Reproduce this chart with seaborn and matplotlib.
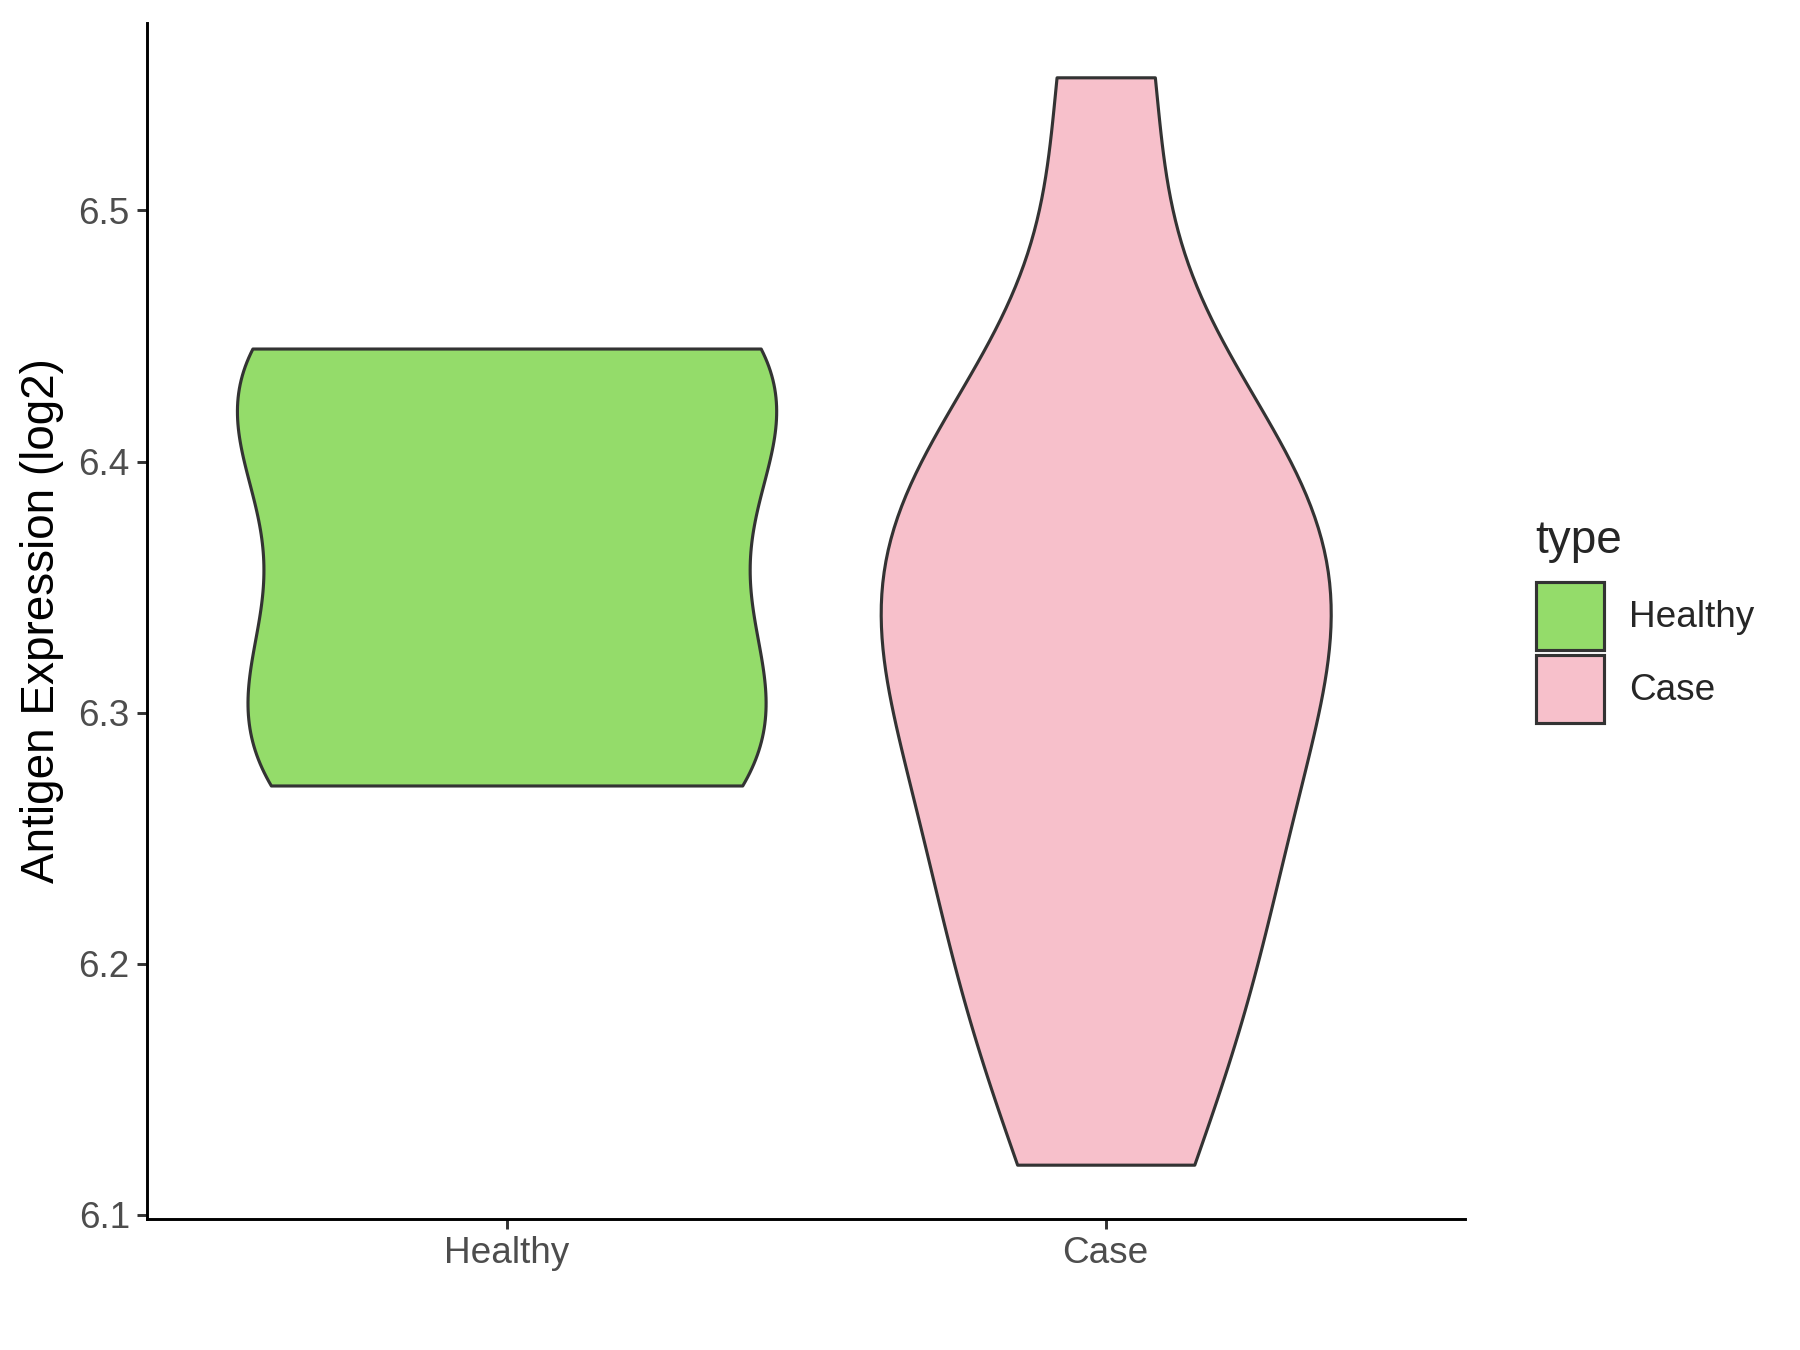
import numpy as np
import pandas as pd
import matplotlib
matplotlib.use("Agg")
import matplotlib.pyplot as plt
import seaborn as sns
from matplotlib.patches import Patch

# values (log2 antigen expression)
healthy_vals = [6.271, 6.31, 6.42, 6.445]
case_vals = [6.12, 6.20, 6.206, 6.286, 6.292, 6.353, 6.377, 6.379, 6.388, 6.553]
groups = ["Healthy", "Case"]
colors = {"Healthy": "#94DC6A", "Case": "#F7C0CB"}
yticks = [6.1, 6.2, 6.3, 6.4, 6.5]

df = pd.DataFrame({
    "type": ["Healthy"] * len(healthy_vals) + ["Case"] * len(case_vals),
    "value": healthy_vals + case_vals,
})
df["type"] = pd.Categorical(df["type"], categories=groups)

sns.set_style("white")
plt.rcParams["font.family"] = ["Liberation Sans", "DejaVu Sans"]

fig = plt.figure(figsize=(12, 9), dpi=150)
ax = fig.add_axes([0.0817, 0.097, 0.7323, 0.886])

# common_norm so both violins share one area scale (like ggplot scale="area")
sns.violinplot(data=df, x="type", y="value", hue="type", palette=colors,
               order=groups, hue_order=groups, inner=None, cut=0,
               density_norm="area", common_norm=True, width=0.9,
               bw_method="scott", bw_adjust=0.9,
               linewidth=1.5, linecolor="#333333", saturation=1,
               legend=False, ax=ax)

# ggplot-like expansion
lo, hi = df["value"].min(), df["value"].max()
pad = (hi - lo) * 0.05
ax.set_ylim(lo - pad, hi + pad)
ax.set_xlim(-0.6, 1.6)
ax.set_yticks(yticks)
ax.set_yticklabels([f"{t:.1f}" for t in yticks])

for s in ["top", "right"]:
    ax.spines[s].set_visible(False)
for s in ["left", "bottom"]:
    ax.spines[s].set_color("black")
    ax.spines[s].set_linewidth(1.4)
ax.tick_params(axis="both", which="major", length=4.8, width=1.4, color="#333333",
               labelsize=17.7, labelcolor="#4D4D4D", pad=3.5, left=True, bottom=True)
ax.set_xlabel("")
ax.set_ylabel("Antigen Expression (log2)", fontsize=22, color="black", labelpad=7)

handles = [Patch(facecolor=colors[g], edgecolor="#333333", linewidth=1.5, label=g) for g in groups]
leg = fig.legend(handles=handles, title="type", loc="center left",
                 bbox_to_anchor=(0.845, 0.54), frameon=False, fontsize=17.7,
                 title_fontsize=22, handlelength=1.85, handleheight=2.45,
                 handletextpad=0.68, labelspacing=0.14, borderaxespad=0)
leg._legend_box.align = "left"
leg._legend_box.sep = 9

fig.savefig("out.png", dpi=150)
